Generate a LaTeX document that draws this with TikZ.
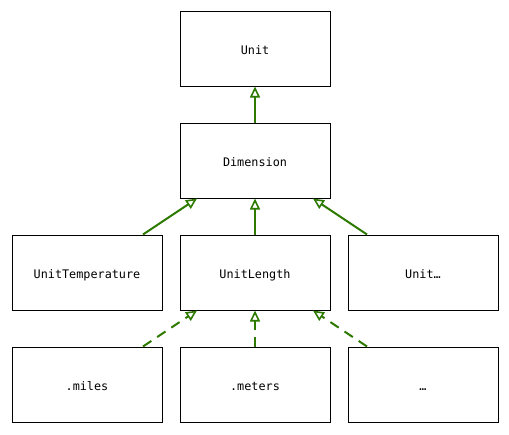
\documentclass[tikz,border=0pt]{standalone}
\usepackage{fontspec}
\setmonofont{DejaVu Sans Mono}
\usetikzlibrary{arrows.meta}
\definecolor{inh}{RGB}{46,122,0}
\begin{document}
\begin{tikzpicture}[x=1pt,y=-1pt,
  box/.style={draw=black,line width=1pt,minimum width=150pt,minimum height=75pt,inner sep=0pt,text height=11.6pt,text depth=0pt,font=\ttfamily\fontsize{11.8}{13}\selectfont},
  gen/.style={draw=inh,line width=2pt,-{Triangle[open,length=11pt,width=10pt,line width=1.6pt]}},
  real/.style={gen,dash pattern=on 10pt off 7pt}]
\useasboundingbox[fill=white] (0,0) rectangle (509,434);
\node[box] (unit) at (255,48.5) {Unit};
\node[box] (dim) at (255,160.5) {Dimension};
\node[box] (temp) at (87,272.5) {UnitTemperature};
\node[box] (len) at (255,272.5) {UnitLength};
\node[box] (uo) at (423,272.5) {Unit…};
\node[box] (mi) at (87,384.5) {.miles};
\node[box] (me) at (255,384.5) {.meters};
\node[box] (dots) at (423,384.5) {…};
\draw[gen] (dim.north) -- (unit.south);
\draw[gen] ([xshift=56pt]temp.north) -- ([xshift=-58pt]dim.south);
\draw[gen] (len.north) -- (dim.south);
\draw[gen] ([xshift=-56pt]uo.north) -- ([xshift=58pt]dim.south);
\draw[real] ([xshift=56pt]mi.north) -- ([xshift=-58pt]len.south);
\draw[real] (me.north) -- (len.south);
\draw[real] ([xshift=-56pt]dots.north) -- ([xshift=58pt]len.south);
\end{tikzpicture}
\end{document}
